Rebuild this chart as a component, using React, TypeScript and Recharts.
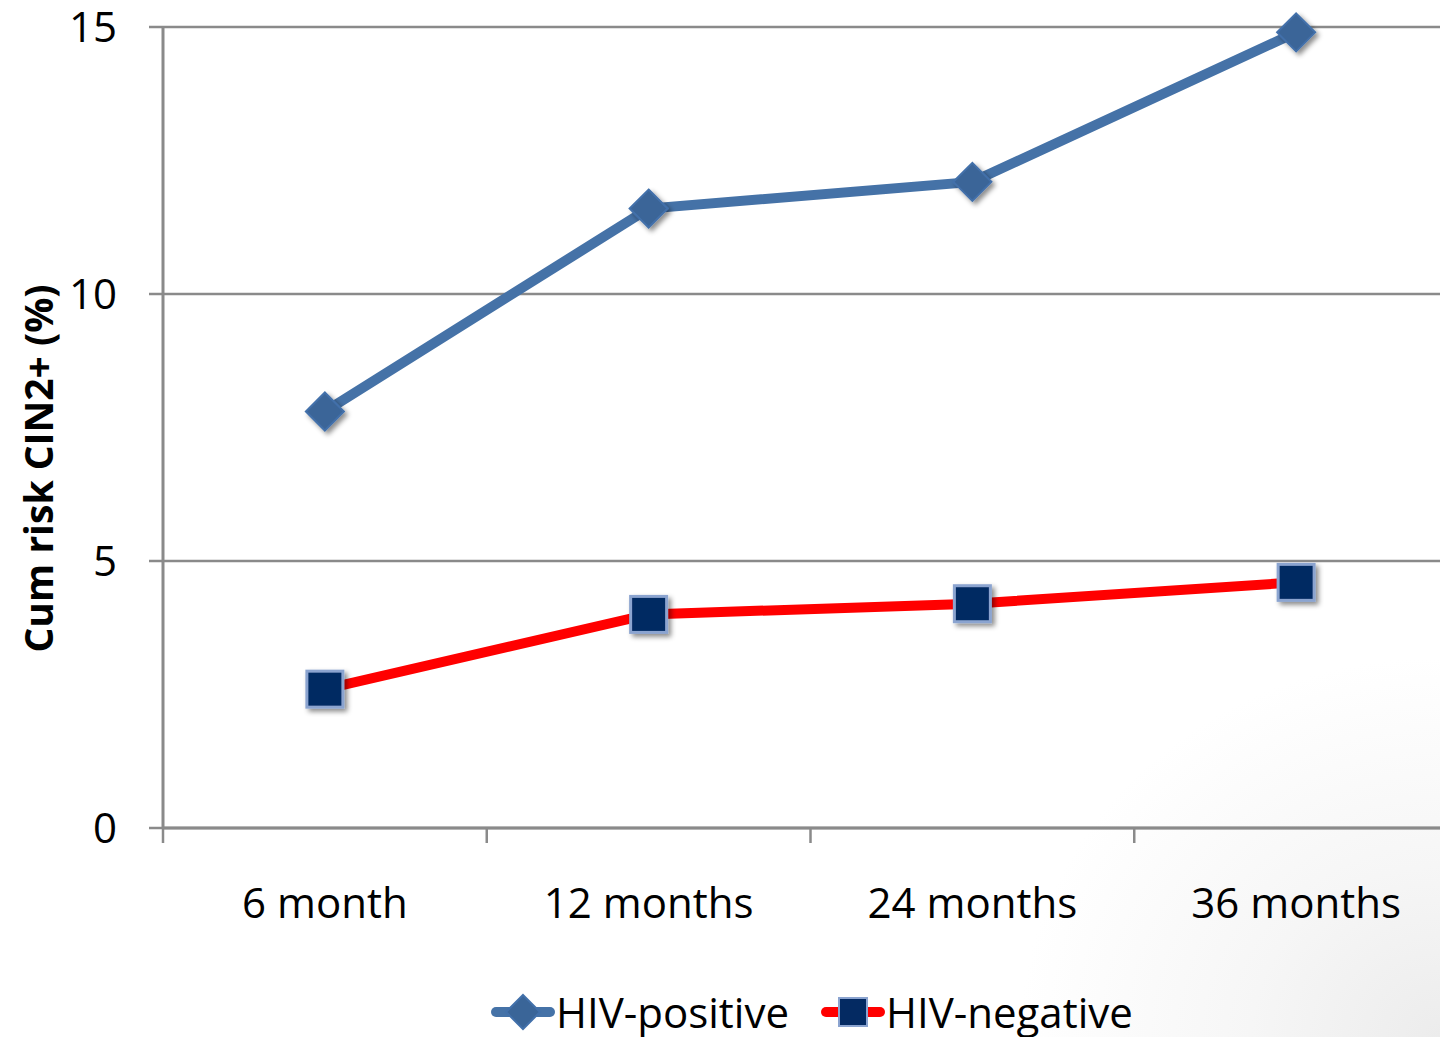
import React from "react";
import {
  LineChart,
  Line,
  XAxis,
  YAxis,
  CartesianGrid,
  Legend,
} from "recharts";

const categories = ["6 month", "12 months", "24 months", "36 months"];
const hivPositive = [7.8, 11.6, 12.1, 14.9];
const hivNegative = [2.6, 4.0, 4.2, 4.6];
const yTicks = [0, 5, 10, 15];

const data = categories.map((c, i) => ({
  cat: c,
  pos: hivPositive[i],
  neg: hivNegative[i],
}));

const FONT = "'Open Sans', sans-serif";
const GRAY = "#8a8a8a";
const BLUE = "#4572a7";
const RED = "#ff0000";
const X_TICK_MARGIN = 60;

const Diamond = (props: any) => {
  const { cx, cy } = props;
  if (cx == null || cy == null) return null;
  const r = 19;
  return (
    <polygon
      points={`${cx},${cy - r} ${cx + r},${cy} ${cx},${cy + r} ${cx - r},${cy}`}
      fill="#3a6598"
      stroke="#4270aa"
      strokeWidth={2}
      filter="url(#shadow)"
    />
  );
};

const Square = (props: any) => {
  const { cx, cy } = props;
  if (cx == null || cy == null) return null;
  const s = 36;
  return (
    <rect
      x={cx - s / 2}
      y={cy - s / 2}
      width={s}
      height={s}
      fill="#042a62"
      stroke="#8ba4d0"
      strokeWidth={3}
      filter="url(#shadow)"
    />
  );
};

const XTick = (props: any) => {
  const { x, y, payload, index, visibleTicksCount } = props;
  const off = payload && typeof payload.offset === "number" ? payload.offset : 0;
  const axisY = y - X_TICK_MARGIN;
  const isLast = index === (visibleTicksCount ?? categories.length) - 1;
  return (
    <g>
      {off > 0 && (
        <line x1={x - off} x2={x - off} y1={axisY} y2={axisY + 15} stroke={GRAY} strokeWidth={2.5} />
      )}
      {off > 0 && isLast && (
        <line x1={x + off} x2={x + off} y1={axisY} y2={axisY + 15} stroke={GRAY} strokeWidth={2.5} />
      )}
      <text
        x={x}
        y={y}
        dy="0.71em"
        textAnchor="middle"
        fontFamily={FONT}
        fontSize={42}
        fill="#000"
      >
        {payload.value}
      </text>
    </g>
  );
};

const YTitle = (props: any) => {
  const vb = props.viewBox || { x: 0, y: 0, width: 0, height: 0 };
  const x = vb.x + 37;
  const y = vb.y + vb.height / 2 + 41;
  return (
    <text
      x={x}
      y={y}
      transform={`rotate(-90, ${x}, ${y})`}
      textAnchor="middle"
      dominantBaseline="central"
      fontFamily={FONT}
      fontWeight={700}
      fontSize={39}
      fill="#000"
    >
      Cum risk CIN2+ (%)
    </text>
  );
};

const LegendContent = () => (
  <div
    style={{
      height: 50,
      display: "flex",
      alignItems: "center",
      paddingLeft: 491,
      fontFamily: FONT,
      fontSize: 42,
      color: "#000",
      lineHeight: "50px",
    }}
  >
    <svg width={64} height={40} style={{ display: "block" }}>
      <line x1={5} y1={20} x2={59} y2={20} stroke={BLUE} strokeWidth={10} strokeLinecap="round" />
      <polygon points="32,3 49,20 32,37 15,20" fill="#3a6598" stroke="#4270aa" strokeWidth={2} />
    </svg>
    <span style={{ marginLeft: 1 }}>HIV-positive</span>
    <svg width={64} height={40} style={{ display: "block", marginLeft: 32 }}>
      <line x1={5} y1={20} x2={59} y2={20} stroke={RED} strokeWidth={10} strokeLinecap="round" />
      <rect x={18} y={6} width={28} height={28} fill="#042a62" stroke="#8ba4d0" strokeWidth={2} />
    </svg>
    <span style={{ marginLeft: 1 }}>HIV-negative</span>
  </div>
);

export default function App() {
  return (
    <div
      style={{
        position: "absolute",
        left: 0,
        top: 0,
        width: 1440,
        height: 1037,
        overflow: "hidden",
        background:
          "radial-gradient(ellipse 420px 380px at 100% 100%, #ececec 0%, #f6f6f6 45%, #ffffff 100%)",
      }}
    >
      <LineChart
        width={1460}
        height={1037}
        data={data}
        margin={{ top: 27, right: 2, left: 0, bottom: 0 }}
      >
        <defs>
          <filter id="shadow" x="-50%" y="-50%" width="200%" height="200%">
            <feDropShadow dx={3} dy={3} stdDeviation={2.5} floodColor="#000" floodOpacity={0.45} />
          </filter>
        </defs>
        <CartesianGrid vertical={false} stroke={GRAY} strokeWidth={2.5} />
        <XAxis
          dataKey="cat"
          scale="band"
          tickLine={false}
          tickSize={0}
          tickMargin={X_TICK_MARGIN}
          height={159}
          axisLine={{ stroke: GRAY, strokeWidth: 3 }}
          tick={<XTick />}
          interval={0}
        />
        <YAxis
          domain={[0, 15]}
          ticks={yTicks}
          width={163}
          tickSize={14}
          tickMargin={32}
          axisLine={{ stroke: GRAY, strokeWidth: 3 }}
          tickLine={{ stroke: GRAY, strokeWidth: 2.5 }}
          tick={{ fontFamily: FONT, fontSize: 42, fill: "#000" }}
          label={<YTitle />}
        />
        <Legend verticalAlign="bottom" align="left" content={<LegendContent />} wrapperStyle={{ left: 0, bottom: 0, width: 1440 }} />
        <Line
          dataKey="pos"
          name="HIV-positive"
          stroke={BLUE}
          strokeWidth={10}
          dot={<Diamond />}
          activeDot={false}
          isAnimationActive={false}
        />
        <Line
          dataKey="neg"
          name="HIV-negative"
          stroke={RED}
          strokeWidth={10}
          dot={<Square />}
          activeDot={false}
          isAnimationActive={false}
        />
      </LineChart>
    </div>
  );
}
